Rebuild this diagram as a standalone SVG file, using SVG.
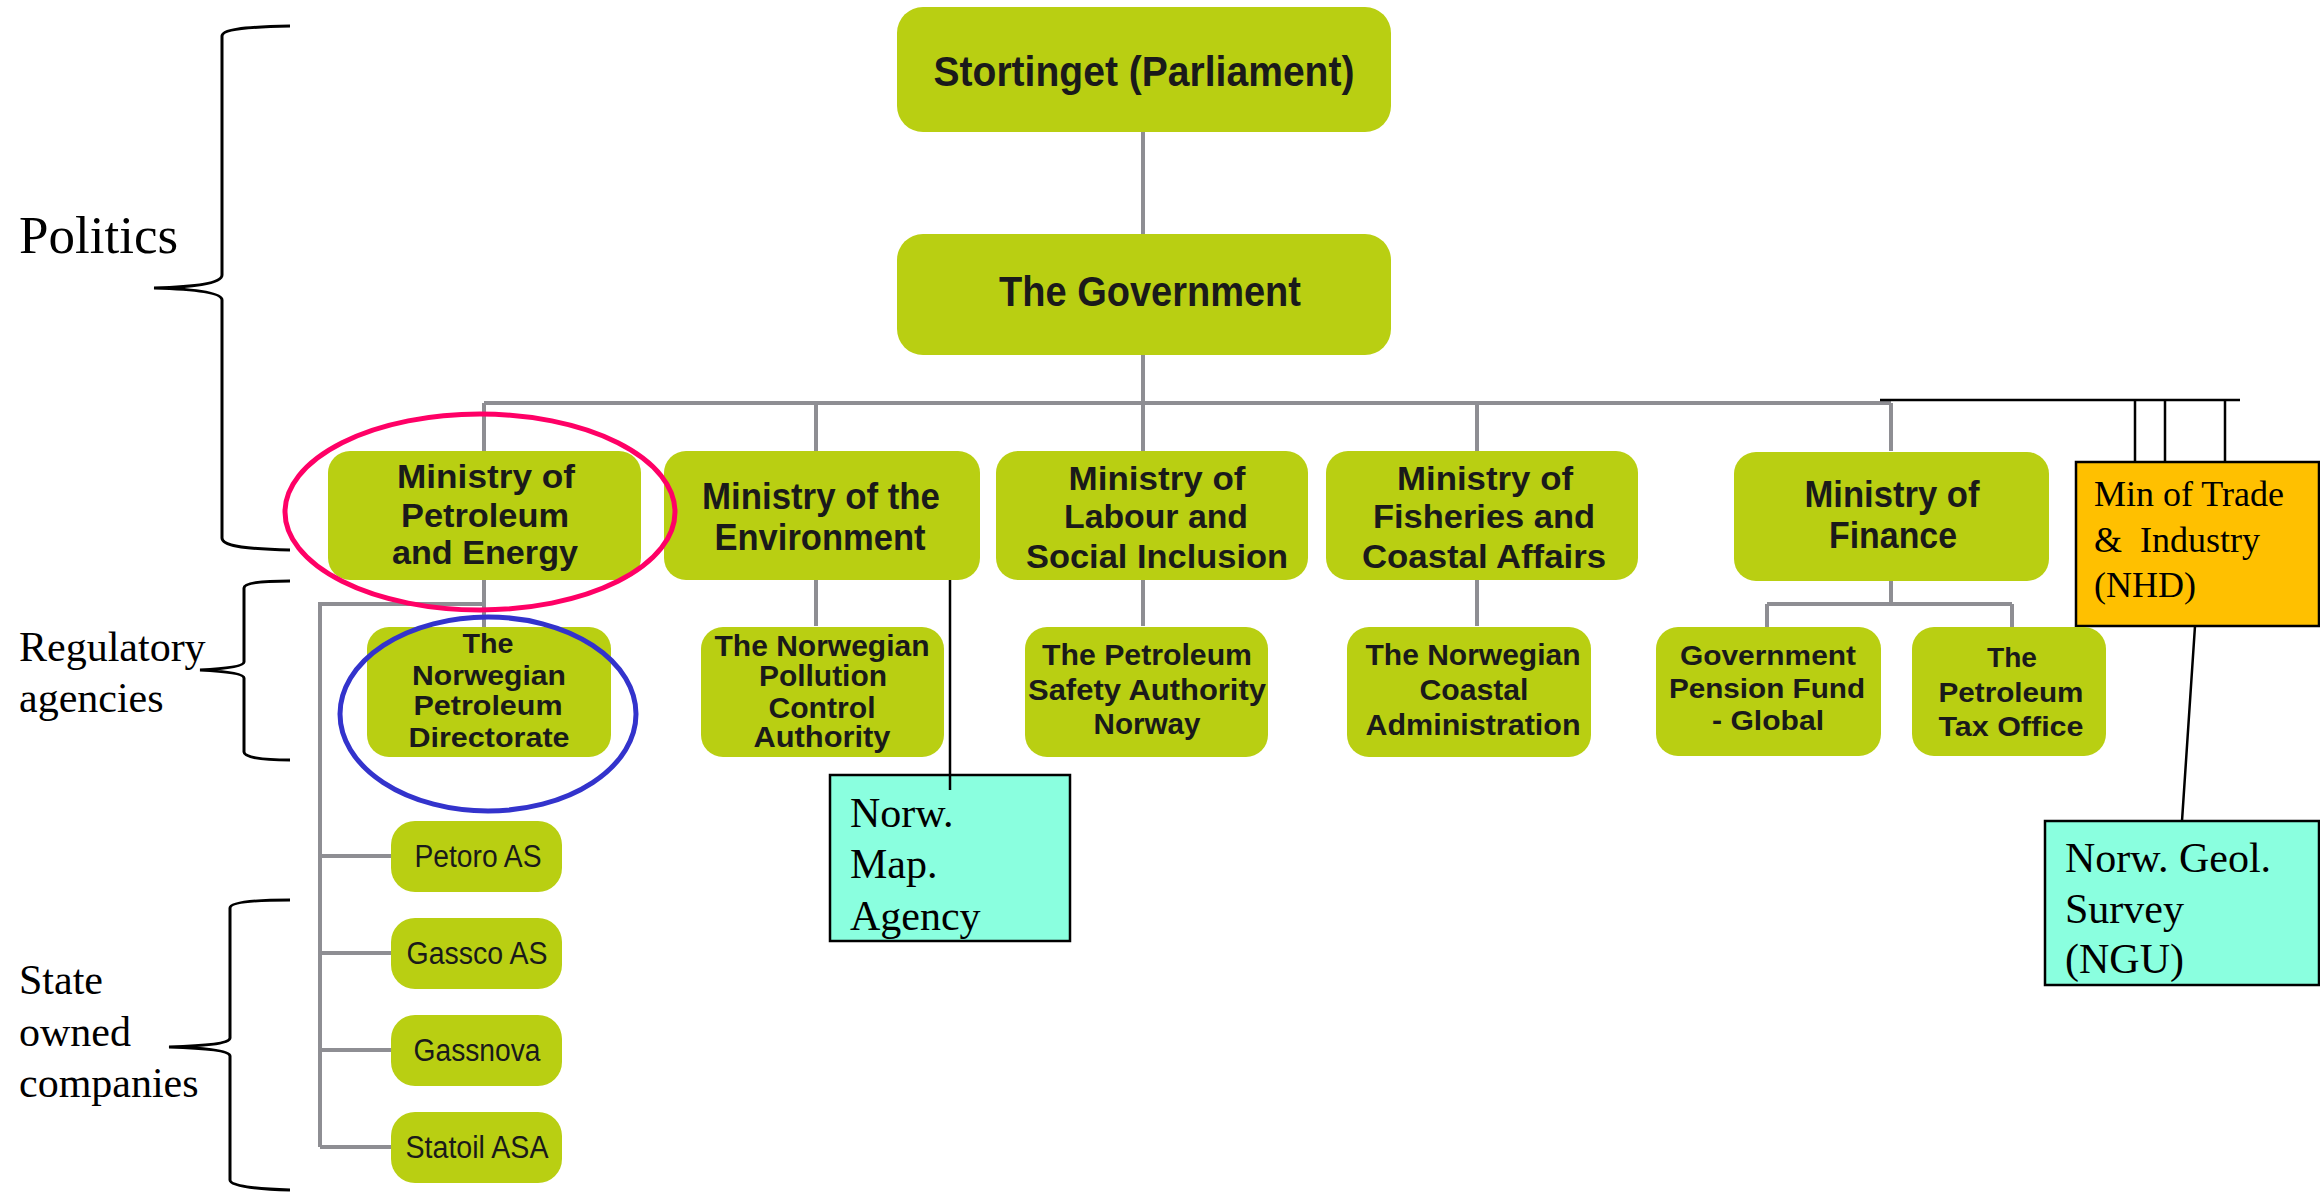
<svg xmlns="http://www.w3.org/2000/svg" width="2320" height="1193" viewBox="0 0 2320 1193">
<style>
.g{fill:#B9CF12}
.t{font-family:"Liberation Sans",Arial,sans-serif;font-weight:bold;fill:#1a1a1a;text-anchor:middle}
.c{font-family:"Liberation Sans",Arial,sans-serif;fill:#1a1a1a;text-anchor:middle;font-size:31px}
.s{font-family:"Liberation Serif","Times New Roman",serif;fill:#000}
.gl{stroke:#8E8E93;stroke-width:4;fill:none}
.bl{stroke:#000;stroke-width:2.5;fill:none}
.br{stroke:#000;stroke-width:3;fill:none}
</style>
<rect width="2320" height="1193" fill="#fff"/>
<g id="connectors">
<path class="gl" d="M1143,132V234M1143,355V403M484,403H1891M484,403V451M816,403V451M1143,403V451M1477,403V451M1891,403V451"/>
<path class="gl" d="M484,580V627M816,580V626M1143,580V626M1477,580V626M1891,580V604M1767,604H2012M1767,604V627M2012,604V627"/>
<path class="gl" d="M484,604H320V1147M320,856H392M320,953H392M320,1050H392M320,1147H392"/>
<path class="bl" d="M1880,400H2240M2135,400V462M2165,400V462M2225,400V462M950,580V790M2195,626L2182,821"/>
</g>
<g id="braces">
<path class="br" d="M290,26C240,27 222,30 222,36L222,275C222,284 190,287 154,288C190,289 222,292 222,300L222,538C222,545 240,549 290,550"/>
<path class="br" d="M290,581C260,581 244,583 244,588L244,662C244,667 220,669 200,670C220,671 244,673 244,678L244,752C244,757 260,760 290,760"/>
<path class="br" d="M290,900C255,900 230,902 230,908L230,1038C230,1044 200,1046 169,1047C200,1048 230,1050 230,1056L230,1180C230,1186 255,1189 290,1190"/>
<text class="s" x="19" y="253" font-size="53">Politics</text>
<text class="s" x="19" y="661" font-size="42">Regulatory</text>
<text class="s" x="19" y="712" font-size="42">agencies</text>
<text class="s" x="19" y="994" font-size="42">State</text>
<text class="s" x="19" y="1046" font-size="42">owned</text>
<text class="s" x="19" y="1097" font-size="42">companies</text>
</g>
<g id="stortinget">
<rect class="g" x="897" y="7" width="494" height="125" rx="26"/>
<text class="t" x="1144" y="86" font-size="42" textLength="421" lengthAdjust="spacingAndGlyphs">Stortinget (Parliament)</text>
</g>
<g id="government">
<rect class="g" x="897" y="234" width="494" height="121" rx="26"/>
<text class="t" x="1150" y="306" font-size="42" textLength="302" lengthAdjust="spacingAndGlyphs">The Government</text>
</g>
<g id="min-petroleum">
<rect class="g" x="328" y="451" width="313" height="129" rx="22"/>
<text class="t" x="486" y="488" font-size="34" textLength="178" lengthAdjust="spacingAndGlyphs">Ministry of</text>
<text class="t" x="485" y="527" font-size="34" textLength="168" lengthAdjust="spacingAndGlyphs">Petroleum</text>
<text class="t" x="485" y="564" font-size="34" textLength="186" lengthAdjust="spacingAndGlyphs">and Energy</text>
</g>
<g id="min-environment">
<rect class="g" x="664" y="451" width="316" height="129" rx="22"/>
<text class="t" x="821" y="509" font-size="36" textLength="238" lengthAdjust="spacingAndGlyphs">Ministry of the</text>
<text class="t" x="820" y="550" font-size="36" textLength="211" lengthAdjust="spacingAndGlyphs">Environment</text>
</g>
<g id="min-labour">
<rect class="g" x="996" y="451" width="312" height="129" rx="22"/>
<text class="t" x="1157" y="490" font-size="34" textLength="177" lengthAdjust="spacingAndGlyphs">Ministry of</text>
<text class="t" x="1156" y="528" font-size="34" textLength="184" lengthAdjust="spacingAndGlyphs">Labour and</text>
<text class="t" x="1157" y="568" font-size="34" textLength="262" lengthAdjust="spacingAndGlyphs">Social Inclusion</text>
</g>
<g id="min-fisheries">
<rect class="g" x="1326" y="451" width="312" height="129" rx="22"/>
<text class="t" x="1485" y="490" font-size="34" textLength="176" lengthAdjust="spacingAndGlyphs">Ministry of</text>
<text class="t" x="1484" y="528" font-size="34" textLength="222" lengthAdjust="spacingAndGlyphs">Fisheries and</text>
<text class="t" x="1484" y="568" font-size="34" textLength="244" lengthAdjust="spacingAndGlyphs">Coastal Affairs</text>
</g>
<g id="min-finance">
<rect class="g" x="1734" y="452" width="315" height="129" rx="22"/>
<text class="t" x="1892" y="507" font-size="36" textLength="175" lengthAdjust="spacingAndGlyphs">Ministry of</text>
<text class="t" x="1893" y="548" font-size="36" textLength="128" lengthAdjust="spacingAndGlyphs">Finance</text>
</g>
<g id="min-trade">
<rect x="2076" y="462" width="243" height="164" fill="#FFC000" stroke="#000" stroke-width="2.5"/>
<text class="s" x="2094" y="506" font-size="36">Min of Trade</text>
<text class="s" x="2094" y="552" font-size="36" style="white-space:pre">&amp;  Industry</text>
<text class="s" x="2094" y="597" font-size="36">(NHD)</text>
</g>
<g id="npd">
<rect class="g" x="367" y="627" width="244" height="130" rx="22"/>
<text class="t" x="488" y="653" font-size="28" textLength="51" lengthAdjust="spacingAndGlyphs">The</text>
<text class="t" x="489" y="685" font-size="28" textLength="154" lengthAdjust="spacingAndGlyphs">Norwegian</text>
<text class="t" x="488" y="715" font-size="28" textLength="149" lengthAdjust="spacingAndGlyphs">Petroleum</text>
<text class="t" x="489" y="747" font-size="28" textLength="161" lengthAdjust="spacingAndGlyphs">Directorate</text>
</g>
<g id="pollution">
<rect class="g" x="701" y="627" width="243" height="130" rx="22"/>
<text class="t" x="822" y="656" font-size="29" textLength="215" lengthAdjust="spacingAndGlyphs">The Norwegian</text>
<text class="t" x="823" y="686" font-size="29" textLength="128" lengthAdjust="spacingAndGlyphs">Pollution</text>
<text class="t" x="822" y="718" font-size="29" textLength="107" lengthAdjust="spacingAndGlyphs">Control</text>
<text class="t" x="822" y="747" font-size="29" textLength="137" lengthAdjust="spacingAndGlyphs">Authority</text>
</g>
<g id="psa">
<rect class="g" x="1025" y="627" width="243" height="130" rx="22"/>
<text class="t" x="1147" y="665" font-size="30" textLength="210" lengthAdjust="spacingAndGlyphs">The Petroleum</text>
<text class="t" x="1147" y="700" font-size="30" textLength="238" lengthAdjust="spacingAndGlyphs">Safety Authority</text>
<text class="t" x="1147" y="734" font-size="30" textLength="107" lengthAdjust="spacingAndGlyphs">Norway</text>
</g>
<g id="coastal">
<rect class="g" x="1347" y="627" width="244" height="130" rx="22"/>
<text class="t" x="1473" y="665" font-size="30" textLength="215" lengthAdjust="spacingAndGlyphs">The Norwegian</text>
<text class="t" x="1474" y="700" font-size="30" textLength="109" lengthAdjust="spacingAndGlyphs">Coastal</text>
<text class="t" x="1473" y="735" font-size="30" textLength="215" lengthAdjust="spacingAndGlyphs">Administration</text>
</g>
<g id="pension">
<rect class="g" x="1656" y="627" width="225" height="129" rx="22"/>
<text class="t" x="1768" y="665" font-size="28" textLength="176" lengthAdjust="spacingAndGlyphs">Government</text>
<text class="t" x="1767" y="698" font-size="28" textLength="196" lengthAdjust="spacingAndGlyphs">Pension Fund</text>
<text class="t" x="1768" y="730" font-size="28" textLength="112" lengthAdjust="spacingAndGlyphs">- Global</text>
</g>
<g id="taxoffice">
<rect class="g" x="1912" y="627" width="194" height="129" rx="22"/>
<text class="t" x="2012" y="667" font-size="28" textLength="50" lengthAdjust="spacingAndGlyphs">The</text>
<text class="t" x="2011" y="702" font-size="28" textLength="145" lengthAdjust="spacingAndGlyphs">Petroleum</text>
<text class="t" x="2011" y="736" font-size="28" textLength="145" lengthAdjust="spacingAndGlyphs">Tax Office</text>
</g>
<g id="petoro">
<rect class="g" x="391" y="821" width="171" height="71" rx="24"/>
<text class="c" x="478" y="867" textLength="127" lengthAdjust="spacingAndGlyphs">Petoro AS</text>
</g>
<g id="gassco">
<rect class="g" x="391" y="918" width="171" height="71" rx="24"/>
<text class="c" x="477" y="964" textLength="141" lengthAdjust="spacingAndGlyphs">Gassco AS</text>
</g>
<g id="gassnova">
<rect class="g" x="391" y="1015" width="171" height="71" rx="24"/>
<text class="c" x="477" y="1061" textLength="127" lengthAdjust="spacingAndGlyphs">Gassnova</text>
</g>
<g id="statoil">
<rect class="g" x="391" y="1112" width="171" height="71" rx="24"/>
<text class="c" x="477" y="1158" textLength="143" lengthAdjust="spacingAndGlyphs">Statoil ASA</text>
</g>
<g id="map-agency">
<rect x="830" y="775" width="240" height="166" fill="#8AFFDF" stroke="#000" stroke-width="2.5"/>
<path class="bl" d="M950,775V790"/>
<text class="s" x="850" y="827" font-size="42">Norw.</text>
<text class="s" x="850" y="878" font-size="42">Map.</text>
<text class="s" x="850" y="930" font-size="42">Agency</text>
</g>
<g id="ngu">
<rect x="2045" y="821" width="274" height="164" fill="#8AFFDF" stroke="#000" stroke-width="2.5"/>
<text class="s" x="2065" y="872" font-size="42">Norw. Geol.</text>
<text class="s" x="2065" y="923" font-size="42">Survey</text>
<text class="s" x="2065" y="973" font-size="42">(NGU)</text>
</g>
<g id="highlights">
<ellipse cx="480" cy="512" rx="195" ry="98" fill="none" stroke="#FF0066" stroke-width="5"/>
<ellipse cx="488" cy="714" rx="148" ry="97" fill="none" stroke="#3333CC" stroke-width="5"/>
</g>
</svg>
